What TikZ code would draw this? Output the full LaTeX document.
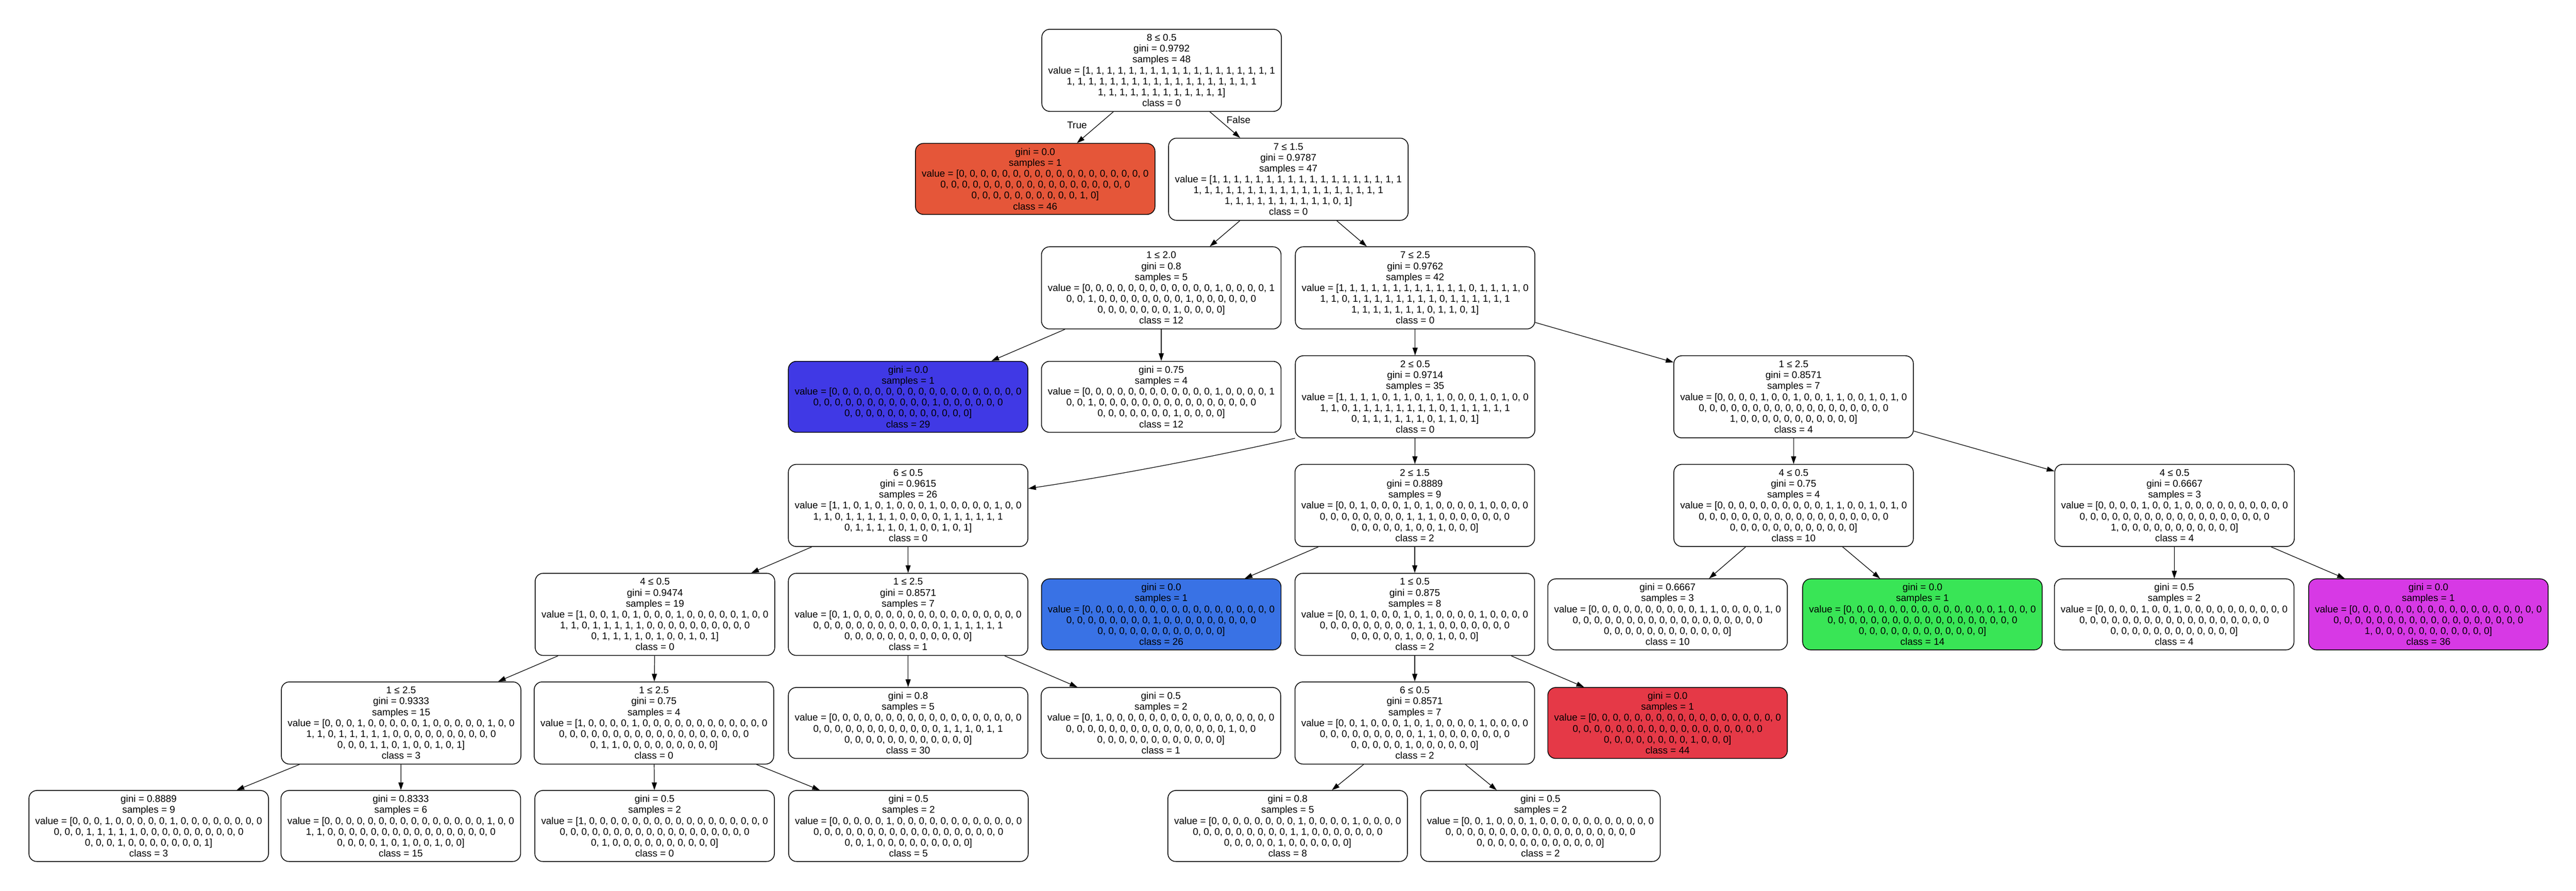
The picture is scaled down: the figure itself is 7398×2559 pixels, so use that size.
\documentclass[tikz,border=0pt]{standalone}
\usepackage{fontspec}
\setmainfont{Liberation Sans}
\usetikzlibrary{arrows.meta}
\ExplSyntaxOn
\clist_new:N \l__my_set_clist
\tl_new:N \l__my_out_tl
\bool_new:N \l__my_inv_bool
\cs_new_protected:Npn \__my_vals:n #1
  {
    \clist_set:Nn \l__my_set_clist {#1}
    \tl_set:Nn \l__my_out_tl { value ~ = ~ [ }
    \int_step_inline:nnn { 0 } { 47 }
      {
        \clist_if_in:NnTF \l__my_set_clist {##1}
          { \bool_if:NTF \l__my_inv_bool { \tl_put_right:Nn \l__my_out_tl {0} } { \tl_put_right:Nn \l__my_out_tl {1} } }
          { \bool_if:NTF \l__my_inv_bool { \tl_put_right:Nn \l__my_out_tl {1} } { \tl_put_right:Nn \l__my_out_tl {0} } }
        \int_compare:nNnTF {##1} = {47}
          { \tl_put_right:Nn \l__my_out_tl { ] } }
          {
            \bool_lazy_or:nnTF { \int_compare_p:nNn {##1} = {17} } { \int_compare_p:nNn {##1} = {35} }
              { \tl_put_right:Nn \l__my_out_tl { \\ } }
              { \tl_put_right:Nn \l__my_out_tl { , ~ } }
          }
      }
    \tl_use:N \l__my_out_tl
  }
\NewDocumentCommand \myvals { m } { \bool_set_false:N \l__my_inv_bool \__my_vals:n {#1} }
\NewDocumentCommand \myvalsc { m } { \bool_set_true:N \l__my_inv_bool \__my_vals:n {#1} }
\ExplSyntaxOff
\definecolor{cA}{HTML}{E55639}
\definecolor{cB}{HTML}{4039E5}
\definecolor{cC}{HTML}{3972E5}
\definecolor{cD}{HTML}{39E556}
\definecolor{cE}{HTML}{D739E5}
\definecolor{cF}{HTML}{E53947}
\tikzset{
  tnode/.style={draw=black, line width=0.22pt, rounded corners=2.3pt, fill=white,
    align=center, minimum width=68.8pt, inner sep=0pt,
    font=\fontsize{2.8pt}{3.13pt}\selectfont},
  splitbox/.style={tnode, minimum height=23.6pt},
  leafbox/.style={tnode, minimum height=20.4pt},
  conn/.style={line width=0.18pt, -{Triangle[length=2.2pt,width=1.45pt]}},
  elabel/.style={font=\fontsize{2.8pt}{3.13pt}\selectfont, inner sep=0pt}
}
\begin{document}
\begin{tikzpicture}[x=0.1pt, y=-0.1pt]
\fill[white] (0,0) rectangle (7398,2559);
\useasboundingbox (0,0) rectangle (7398,2559);
% row 0
\node[splitbox] (root) at (3336,202) {8 ≤ 0.5\\gini = 0.9792\\samples = 48\\\myvalsc{}\\class = 0};
% row 1
\node[leafbox, fill=cA] (red46) at (2973,514) {gini = 0.0\\samples = 1\\\myvals{46}\\class = 46};
\node[splitbox] (n715) at (3700,515) {7 ≤ 1.5\\gini = 0.9787\\samples = 47\\\myvalsc{46}\\class = 0};
% row 2
\node[splitbox] (n120) at (3335,827) {1 ≤ 2.0\\gini = 0.8\\samples = 5\\\myvals{12,17,20,29,43}\\class = 12};
\node[splitbox] (n725) at (4064,827) {7 ≤ 2.5\\gini = 0.9762\\samples = 42\\\myvalsc{12,17,20,29,43,46}\\class = 0};
% row 3
\node[leafbox, fill=cB] (blue29) at (2608,1140) {gini = 0.0\\samples = 1\\\myvals{29}\\class = 29};
\node[leafbox] (g075) at (3335,1140) {gini = 0.75\\samples = 4\\\myvals{12,17,20,43}\\class = 12};
\node[splitbox] (n205) at (4064,1140) {2 ≤ 0.5\\gini = 0.9714\\samples = 35\\\myvalsc{4,7,10,11,12,14,16,17,20,29,36,43,46}\\class = 0};
\node[splitbox] (n125r) at (5151,1140) {1 ≤ 2.5\\gini = 0.8571\\samples = 7\\\myvals{4,7,10,11,14,16,36}\\class = 4};
% row 4
\node[splitbox] (n605) at (2608,1452) {6 ≤ 0.5\\gini = 0.9615\\samples = 26\\\myvals{0,1,3,5,9,15,18,19,21,22,23,24,25,30,31,32,33,34,35,37,38,39,40,42,45,47}\\class = 0};
\node[splitbox] (n215) at (4063,1452) {2 ≤ 1.5\\gini = 0.8889\\samples = 9\\\myvals{2,6,8,13,26,27,28,41,44}\\class = 2};
\node[splitbox] (n405a) at (5151,1452) {4 ≤ 0.5\\gini = 0.75\\samples = 4\\\myvals{10,11,14,16}\\class = 10};
\node[splitbox] (n405b) at (6245,1452) {4 ≤ 0.5\\gini = 0.6667\\samples = 3\\\myvals{4,7,36}\\class = 4};
% row 5
\node[splitbox] (n405c) at (1881,1765) {4 ≤ 0.5\\gini = 0.9474\\samples = 19\\\myvals{0,3,5,9,15,18,19,21,22,23,24,25,37,38,39,40,42,45,47}\\class = 0};
\node[splitbox] (n125m) at (2608,1765) {1 ≤ 2.5\\gini = 0.8571\\samples = 7\\\myvals{1,30,31,32,33,34,35}\\class = 1};
\node[leafbox, fill=cC] (blue26) at (3335,1765) {gini = 0.0\\samples = 1\\\myvals{26}\\class = 26};
\node[splitbox] (n105) at (4063,1765) {1 ≤ 0.5\\gini = 0.875\\samples = 8\\\myvals{2,6,8,13,27,28,41,44}\\class = 2};
\node[leafbox] (g0667) at (4789,1765) {gini = 0.6667\\samples = 3\\\myvals{10,11,16}\\class = 10};
\node[leafbox, fill=cD] (green14) at (5521,1765) {gini = 0.0\\samples = 1\\\myvals{14}\\class = 14};
\node[leafbox] (g05r) at (6244,1765) {gini = 0.5\\samples = 2\\\myvals{4,7}\\class = 4};
\node[leafbox, fill=cE] (mag36) at (6974,1765) {gini = 0.0\\samples = 1\\\myvals{36}\\class = 36};
% row 6
\node[splitbox] (n125a) at (1152,2077) {1 ≤ 2.5\\gini = 0.9333\\samples = 15\\\myvals{3,9,15,18,19,21,22,23,24,25,39,40,42,45,47}\\class = 3};
\node[splitbox] (n125b) at (1878,2077) {1 ≤ 2.5\\gini = 0.75\\samples = 4\\\myvals{0,5,37,38}\\class = 0};
\node[leafbox] (g08) at (2608,2077) {gini = 0.8\\samples = 5\\\myvals{30,31,32,34,35}\\class = 30};
\node[leafbox] (g05) at (3334,2077) {gini = 0.5\\samples = 2\\\myvals{1,33}\\class = 1};
\node[splitbox] (n605b) at (4063,2077) {6 ≤ 0.5\\gini = 0.8571\\samples = 7\\\myvals{2,6,8,13,27,28,41}\\class = 2};
\node[leafbox, fill=cF] (red44) at (4789,2077) {gini = 0.0\\samples = 1\\\myvals{44}\\class = 44};
% row 7
\node[leafbox] (g08889) at (427,2373) {gini = 0.8889\\samples = 9\\\myvals{3,9,21,22,23,24,25,39,47}\\class = 3};
\node[leafbox] (g08333) at (1151,2373) {gini = 0.8333\\samples = 6\\\myvals{15,18,19,40,42,45}\\class = 15};
\node[leafbox] (g05a) at (1880,2373) {gini = 0.5\\samples = 2\\\myvals{0,37}\\class = 0};
\node[leafbox] (g05b) at (2609,2373) {gini = 0.5\\samples = 2\\\myvals{5,38}\\class = 5};
\node[leafbox] (g08b) at (3698,2373) {gini = 0.8\\samples = 5\\\myvals{8,13,27,28,41}\\class = 8};
\node[leafbox] (g05c) at (4424,2373) {gini = 0.5\\samples = 2\\\myvals{2,6}\\class = 2};
% edges
\draw[conn] (root) -- (red46);
\draw[conn] (root) -- (n715);
\node[elabel] (ltrue) at (3093,360) {True};
\node[elabel] (lfalse) at (3557,344) {False};
\draw[conn] (n715) -- (n120);
\draw[conn] (n715) -- (n725);
\draw[conn] (n120) -- (blue29);
\draw[conn] (n120) -- (g075);
\draw[conn] (n725) -- (n205);
\draw[conn] (n725) -- (n125r);
\draw[conn] (n205.south west) .. controls (3466,1316) and (3202,1366) .. (n605.8.3);
\draw[conn] (n205) -- (n215);
\draw[conn] (n125r) -- (n405a);
\draw[conn] (n125r) -- (n405b);
\draw[conn] (n605) -- (n405c);
\draw[conn] (n605) -- (n125m);
\draw[conn] (n215) -- (blue26);
\draw[conn] (n215) -- (n105);
\draw[conn] (n405a) -- (g0667);
\draw[conn] (n405a) -- (green14);
\draw[conn] (n405b) -- (g05r);
\draw[conn] (n405b) -- (mag36);
\draw[conn] (n405c) -- (n125a);
\draw[conn] (n405c) -- (n125b);
\draw[conn] (n125m) -- (g08);
\draw[conn] (n125m) -- (g05);
\draw[conn] (n105) -- (n605b);
\draw[conn] (n105) -- (red44);
\draw[conn] (n125a) -- (g08889);
\draw[conn] (n125a) -- (g08333);
\draw[conn] (n125b) -- (g05a);
\draw[conn] (n125b) -- (g05b);
\draw[conn] (n605b) -- (g08b);
\draw[conn] (n605b) -- (g05c);
\end{tikzpicture}
\end{document}
